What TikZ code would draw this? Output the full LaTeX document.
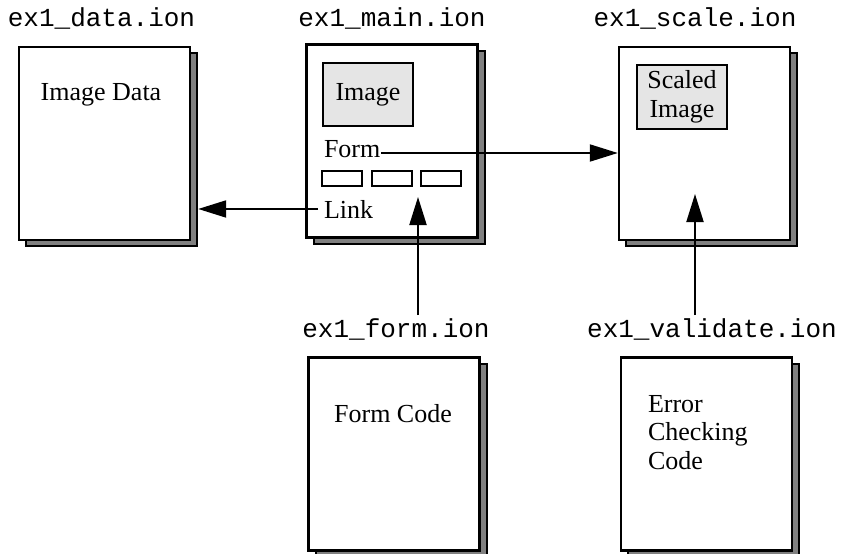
\documentclass[tikz,border=0pt]{standalone}
\usepackage{fontspec}
\setmainfont{Liberation Serif}
\setmonofont{Liberation Mono}
\usetikzlibrary{arrows.meta,shadows}
\tikzset{
  page/.style = {draw=black, line width=2.4pt, fill=white, inner sep=0pt,
    minimum width=171pt, minimum height=193pt,
    general shadow={fill=black!50, draw=black, line width=2pt,
      shadow xshift=7pt, shadow yshift=-6pt}},% feuille avec ombre
  fname/.style = {font=\fontsize{26}{30}\selectfont\ttfamily, inner sep=0pt,
    anchor=base},% nom du fichier
  txt/.style = {font=\fontsize{26}{28.5}\selectfont, inner sep=0pt},
  pic/.style = {txt, draw=black, line width=2pt, fill=black!10, align=center},
  slot/.style = {draw=black, line width=2pt, minimum width=40pt,
    minimum height=15pt, inner sep=0pt}% champ du formulaire
}
\begin{document}
\begin{tikzpicture}[x=1pt, y=-1pt, line width=2pt,
  >={Triangle[length=28pt, width=17pt]}]
\useasboundingbox (0,0) rectangle (841,554);
% pages
\node [page] (data) at (104.5,143.5) {};
\node [page] (main) at (392,141) {};
\node [page] (scale) at (704.5,143.5) {};
\node [page] (form) at (394,454) {};
\node [page] (valid) at (706.5,454) {};
% file names
\node [fname] (datalbl) at (101.5,27) {ex1\_data.ion};
\node [fname] (mainlbl) at (392,27) {ex1\_main.ion};
\node [fname] (scalelbl) at (695,27) {ex1\_scale.ion};
\node [fname] (formlbl) at (396,337) {ex1\_form.ion};
\node [fname] (validlbl) at (712,337) {ex1\_validate.ion};
% contents
\node [txt, anchor=base] (imgdata) at (101,100) {Image Data};
\node [pic, minimum width=90pt, minimum height=63pt] (img) at (368,94.5) {Image};
\node [txt, anchor=base west] (formtxt) at (323,157) {Form};
\node [slot] (s1) at (341.5,178) {};
\node [slot] (s2) at (391.5,178) {};
\node [slot] (s3) at (441,178) {};
\node [txt, anchor=base west] (link) at (323,218) {Link};
\node [pic, minimum width=90pt, minimum height=64pt] (scaled) at (682,97)
  {Scaled\\Image};
\node [txt, anchor=base] (formcode) at (393,422) {Form Code};
\node [txt, anchor=north west, align=left] (errcode) at (647,394)
  {Error\\Checking\\Code};
% connectors
\coordinate (fa) at (418,197);
\coordinate (va) at (695,194);
\draw [->] ([yshift=4pt]formtxt.base east) -- ([yshift=4pt]formtxt.base east -| scale.west);
\draw [->] ([xshift=-5pt]link.west) -- ([xshift=7pt]link.west -| data.east);
\draw [->] ([yshift=2pt]fa |- formlbl.north) -- (fa);
\draw [->] ([yshift=2pt]va |- validlbl.north) -- (va);
\end{tikzpicture}
\end{document}
